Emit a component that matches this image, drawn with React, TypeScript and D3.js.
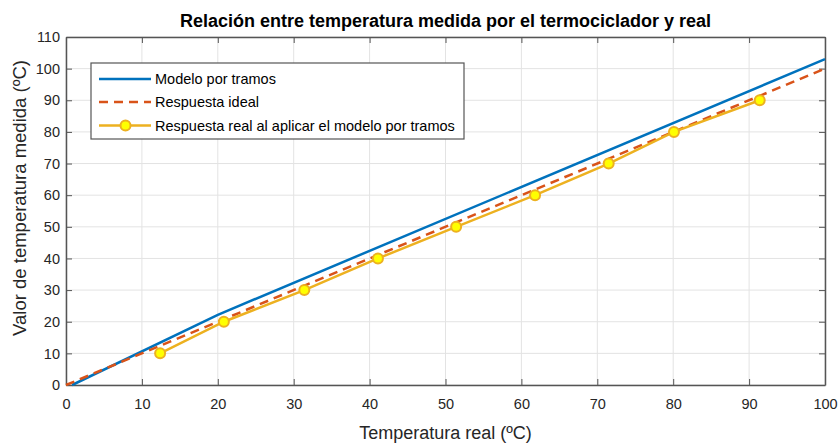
import React, { useRef, useEffect } from "react";
import * as d3 from "d3";

// Modelo por tramos (piecewise model)
const modelX = [0.8, 20, 100];
const modelY = [0, 22.2, 103];

// Respuesta ideal
const idealX = [0, 100];
const idealY = [0, 100];

// Respuesta real al aplicar el modelo por tramos
const realX = [12.4, 20.8, 31.4, 41.1, 51.4, 61.8, 71.5, 80.1, 91.4];
const realY = [10, 20, 30, 40, 50, 60, 70, 80, 90];

const xTicks = [0, 10, 20, 30, 40, 50, 60, 70, 80, 90, 100];
const yTicks = [0, 10, 20, 30, 40, 50, 60, 70, 80, 90, 100, 110];

const legendLabels = [
  "Modelo por tramos",
  "Respuesta ideal",
  "Respuesta real al aplicar el modelo por tramos",
];

const W = 839;
const H = 444;
const margin = { left: 66, right: 14, top: 37, bottom: 59 };
const font = "'Liberation Sans', Arial, Helvetica, sans-serif";
const axisColor = "#555";
const textColor = "#262626";

const App = () => {
  const ref = useRef<SVGSVGElement>(null);

  useEffect(() => {
    const svg = d3.select(ref.current);
    svg.selectAll("*").remove();

    const x = d3.scaleLinear().domain([0, 100]).range([margin.left, W - margin.right]);
    const y = d3.scaleLinear().domain([0, 110]).range([H - margin.bottom, margin.top]);
    const [x0, x1] = x.range();
    const [y0, y1] = y.range();

    svg.append("rect").attr("width", W).attr("height", H).attr("fill", "#fff");

    // grid
    const grid = svg.append("g").attr("stroke", "#e3e3e3").attr("stroke-width", 1);
    xTicks.forEach((t) =>
      grid.append("line").attr("x1", x(t)).attr("x2", x(t)).attr("y1", y0).attr("y2", y1)
    );
    yTicks.forEach((t) =>
      grid.append("line").attr("x1", x0).attr("x2", x1).attr("y1", y(t)).attr("y2", y(t))
    );

    // axes (box + inward ticks)
    const bottom = d3.axisBottom(x).tickValues(xTicks).tickSizeInner(-6).tickSizeOuter(0).tickPadding(14);
    const top = d3.axisTop(x).tickValues(xTicks).tickSizeInner(-6).tickSizeOuter(0).tickFormat(() => "");
    const left = d3.axisLeft(y).tickValues(yTicks).tickSizeInner(-6).tickSizeOuter(0).tickPadding(6);
    const right = d3.axisRight(y).tickValues(yTicks).tickSizeInner(-6).tickSizeOuter(0).tickFormat(() => "");

    const style = (g: any) => {
      g.select(".domain").attr("stroke", axisColor).attr("stroke-width", 1.5);
      g.selectAll(".tick line").attr("stroke", axisColor).attr("stroke-width", 1);
      g.selectAll("text")
        .attr("fill", textColor)
        .style("font-family", font)
        .style("font-size", "14.5px");
    };

    svg.append("g").attr("transform", `translate(0,${y0})`).call(bottom).call(style);
    svg.append("g").attr("transform", `translate(0,${y1})`).call(top).call(style);
    svg.append("g").attr("transform", `translate(${x0},0)`).call(left).call(style);
    svg.append("g").attr("transform", `translate(${x1},0)`).call(right).call(style);

    const line = d3
      .line<[number, number]>()
      .x((d) => x(d[0]))
      .y((d) => y(d[1]));

    const plot = svg.append("g");

    plot
      .append("path")
      .attr("d", line(modelX.map((v, i) => [v, modelY[i]])))
      .attr("fill", "none")
      .attr("stroke", "#0072BD")
      .attr("stroke-width", 2.5);

    plot
      .append("path")
      .attr("d", line(idealX.map((v, i) => [v, idealY[i]])))
      .attr("fill", "none")
      .attr("stroke", "#D95319")
      .attr("stroke-width", 2.5)
      .attr("stroke-dasharray", "9,6");

    plot
      .append("path")
      .attr("d", line(realX.map((v, i) => [v, realY[i]])))
      .attr("fill", "none")
      .attr("stroke", "#EDB120")
      .attr("stroke-width", 2.5);

    plot
      .selectAll("circle")
      .data(realX.map((v, i) => [v, realY[i]]))
      .enter()
      .append("circle")
      .attr("cx", (d) => x(d[0]))
      .attr("cy", (d) => y(d[1]))
      .attr("r", 5)
      .attr("fill", "#FFFF00")
      .attr("stroke", "#EDB120")
      .attr("stroke-width", 2);

    // legend
    const lg = svg.append("g").attr("transform", "translate(91,63)");
    lg.append("rect")
      .attr("width", 373)
      .attr("height", 76)
      .attr("fill", "#fff")
      .attr("stroke", "#555")
      .attr("stroke-width", 1.2);
    const rows = [16, 39, 62.5];
    const styles = [
      { color: "#0072BD", dash: null, marker: false },
      { color: "#D95319", dash: "9,6", marker: false },
      { color: "#EDB120", dash: null, marker: true },
    ];
    legendLabels.forEach((label, i) => {
      const s = styles[i];
      lg.append("line")
        .attr("x1", 8)
        .attr("x2", 60)
        .attr("y1", rows[i])
        .attr("y2", rows[i])
        .attr("stroke", s.color)
        .attr("stroke-width", 2.5)
        .attr("stroke-dasharray", s.dash);
      if (s.marker) {
        lg.append("circle")
          .attr("cx", 34.5)
          .attr("cy", rows[i])
          .attr("r", 5)
          .attr("fill", "#FFFF00")
          .attr("stroke", "#EDB120")
          .attr("stroke-width", 2);
      }
      lg.append("text")
        .attr("x", 64)
        .attr("y", rows[i])
        .attr("dy", "0.35em")
        .attr("fill", "#000")
        .style("font-family", font)
        .style("font-size", "14.5px")
        .text(label);
    });

    // title and axis labels
    svg.append("text")
      .attr("x", (x0 + x1) / 2)
      .attr("y", 27)
      .attr("text-anchor", "middle")
      .attr("fill", "#000")
      .style("font-family", font)
      .style("font-size", "18px")
      .style("font-weight", "bold")
      .text("Relación entre temperatura medida por el termociclador y real");

    svg.append("text")
      .attr("x", (x0 + x1) / 2)
      .attr("y", 439)
      .attr("text-anchor", "middle")
      .attr("fill", textColor)
      .style("font-family", font)
      .style("font-size", "18px")
      .text("Temperatura real (ºC)");

    svg.append("text")
      .attr("transform", `translate(26,198) rotate(-90)`)
      .attr("text-anchor", "middle")
      .attr("fill", textColor)
      .style("font-family", font)
      .style("font-size", "18.5px")
      .text("Valor de temperatura medida (ºC)");
  }, []);

  return (
    <svg
      ref={ref}
      width={W}
      height={H}
      style={{ position: "absolute", left: 0, top: 0, display: "block" }}
    />
  );
};

export default App;
